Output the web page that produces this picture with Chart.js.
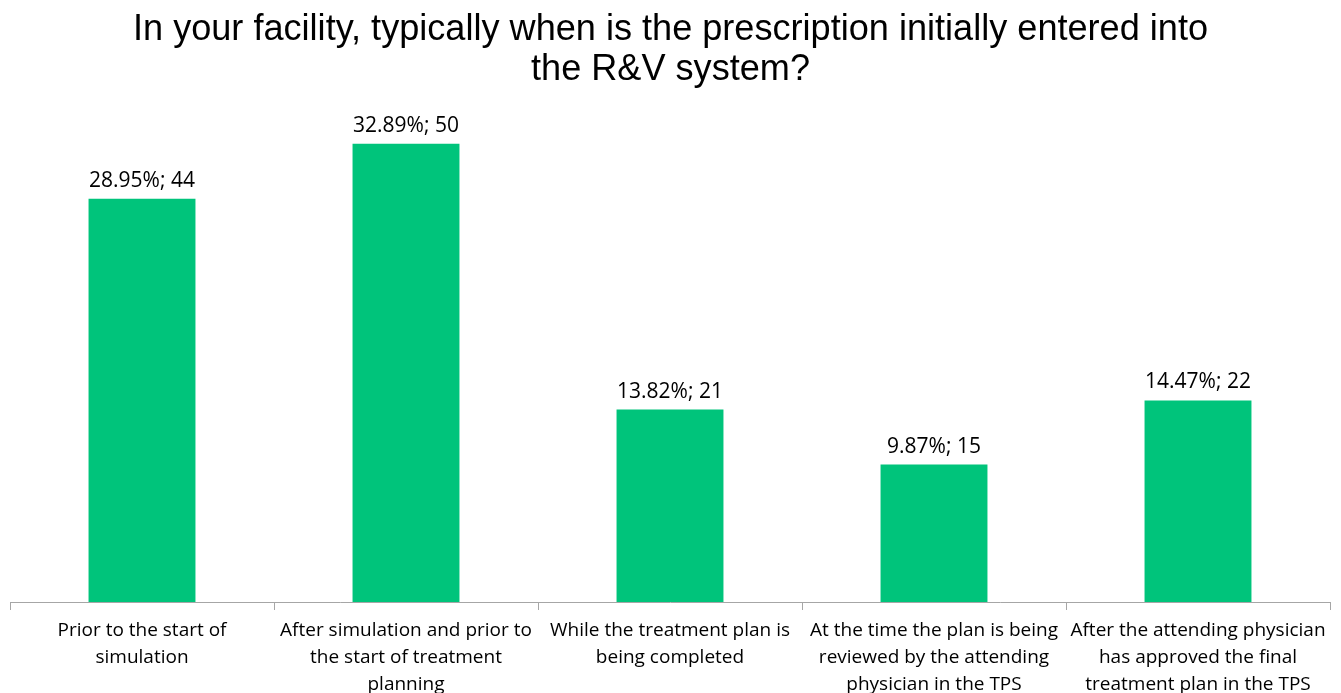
<!DOCTYPE html>
<html><head><meta charset="utf-8">
<script src="https://cdn.jsdelivr.net/npm/chart.js@4"></script>
<style>html,body{margin:0;padding:0;overflow:hidden;background:#fff}#wrap{width:1341px;height:730px}</style>
</head><body><div id="wrap"><canvas id="c" width="1341" height="730"></canvas></div>
<script>
const titleLines = ["In your facility, typically when is the prescription initially entered into", "the R&V system?"];
const categories = [
  ["Prior to the start of", "simulation"],
  ["After simulation and prior to", "the start of treatment", "planning"],
  ["While the treatment plan is", "being completed"],
  ["At the time the plan is being", "reviewed by the attending", "physician in the TPS"],
  ["After the attending physician", "has approved the final", "treatment plan in the TPS"]
];
const counts = [44, 50, 21, 15, 22];
const percents = [28.95, 32.89, 13.82, 9.87, 14.47];

const titlePlugin = {
  id: 'condTitle',
  afterDraw(chart) {
    const ctx = chart.ctx;
    ctx.save();
    ctx.fillStyle = '#000';
    ctx.font = '36px "Liberation Sans", Arial, sans-serif';
    ctx.textAlign = 'center';
    ctx.textBaseline = 'alphabetic';
    const cx = chart.width / 2;
    const w = ctx.measureText(titleLines[0]).width;
    const sx = 1075 / w;
    ctx.translate(cx, 0);
    ctx.scale(sx, 1);
    ctx.fillText(titleLines[0], 0, 40);
    ctx.fillText(titleLines[1], 0, 80);
    ctx.restore();
  }
};
const labelPlugin = {
  id: 'valLabels',
  afterDatasetsDraw(chart) {
    const ctx = chart.ctx;
    const meta = chart.getDatasetMeta(0);
    ctx.save();
    ctx.fillStyle = '#000';
    ctx.font = '21px "Open Sans", "Liberation Sans", sans-serif';
    ctx.textAlign = 'center';
    ctx.textBaseline = 'alphabetic';
    meta.data.forEach((bar, i) => {
      ctx.fillText(percents[i].toFixed(2) + '%; ' + counts[i], bar.x, bar.y - 12);
    });
    ctx.restore();
  }
};

new Chart(document.getElementById('c'), {
  type: 'bar',
  data: {
    labels: categories,
    datasets: [{
      data: counts,
      backgroundColor: '#00c47b',
      borderWidth: 0,
      barPercentage: 1,
      categoryPercentage: 0.405
    }]
  },
  options: {
    responsive: false,
    animation: false,
    devicePixelRatio: 1,
    layout: { padding: { top: 98, left: 10, right: 11, bottom: 0 } },
    plugins: { legend: { display: false }, title: { display: false }, tooltip: { enabled: false } },
    scales: {
      y: { display: false, min: 0, max: 55 },
      x: {
        offset: true,
        afterFit(scale) { scale.height = 128; },
        border: { display: true, color: '#a6a6a6', width: 1 },
        grid: { display: true, offset: true, drawOnChartArea: false, drawTicks: true, tickLength: 8, color: '#a6a6a6' },
        ticks: {
          color: '#000',
          maxRotation: 0,
          autoSkip: false,
          padding: 7,
          font: { family: '"Open Sans", "Liberation Sans", sans-serif', size: 19, lineHeight: 1.42 }
        }
      }
    }
  },
  plugins: [titlePlugin, labelPlugin]
});
</script>
</body></html>
